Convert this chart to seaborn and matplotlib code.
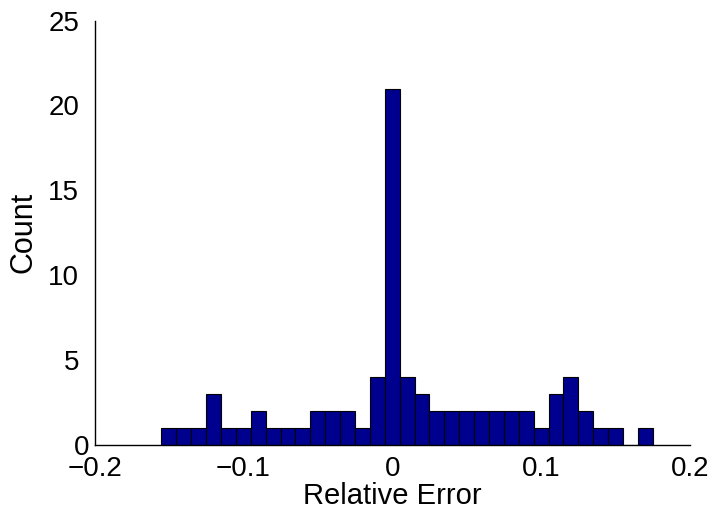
import pandas as pd
import seaborn as sns
import matplotlib.pyplot as plt
import matplotlib.transforms as mtransforms

# histogram bins (centres, width 0.01) and counts
bin_centres = [round(-0.15 + 0.01 * i, 2) for i in range(33)]
counts = [1, 1, 1, 3, 1, 1, 2, 1, 1, 1, 2, 2, 2, 1, 4, 21, 4, 3,
          2, 2, 2, 2, 2, 2, 2, 1, 3, 4, 2, 1, 1, 0, 1]
bin_edges = [round(-0.155 + 0.01 * i, 3) for i in range(34)]
xtick_vals = [-0.2, -0.1, 0, 0.1, 0.2]
xtick_labels = ['\u22120.2', '\u22120.1', '0', '0.1', '0.2']
ytick_vals = [0, 5, 10, 15, 20, 25]

data = pd.DataFrame({'Relative Error': bin_centres, 'n': counts})

sns.set_theme(style="white")
plt.rcParams['font.family'] = ['Liberation Sans', 'DejaVu Sans']
plt.rcParams['xtick.direction'] = 'in'
plt.rcParams['ytick.direction'] = 'in'
plt.rcParams['text.color'] = 'black'
plt.rcParams['axes.labelcolor'] = 'black'

fig = plt.figure(figsize=(7.17, 5.13), dpi=100)
ax = fig.add_axes([0.1318, 0.1326, 0.8305, 0.8272])

sns.histplot(data=data, x='Relative Error', weights='n', bins=bin_edges,
             color='#00008F', edgecolor='black', linewidth=0.8, alpha=1,
             ax=ax)

ax.set_xlim(-0.2, 0.2)
ax.set_ylim(0, 25)
ax.set_xticks(xtick_vals)
ax.set_xticklabels(xtick_labels)
ax.set_yticks(ytick_vals)
ax.tick_params(axis='both', labelsize=20, length=5, width=0.8,
               color='black', labelcolor='black')
ax.tick_params(axis='x', pad=8)
ax.tick_params(axis='y', pad=11)
ax.set_xlabel('Relative Error', fontsize=21, labelpad=0)
ax.set_ylabel('Count', fontsize=22, labelpad=7)
sns.despine(ax=ax)
for s in ['left', 'bottom']:
    ax.spines[s].set_color('black')
    ax.spines[s].set_linewidth(1.0)

# the zero label of the y axis sits a little further right, as in the original
zero_lbl = ax.get_yticklabels()[0]
zero_lbl.set_transform(zero_lbl.get_transform() +
                       mtransforms.ScaledTranslation(10 / 100, 0, fig.dpi_scale_trans))

plt.savefig("out.png", dpi=100)
plt.close()
